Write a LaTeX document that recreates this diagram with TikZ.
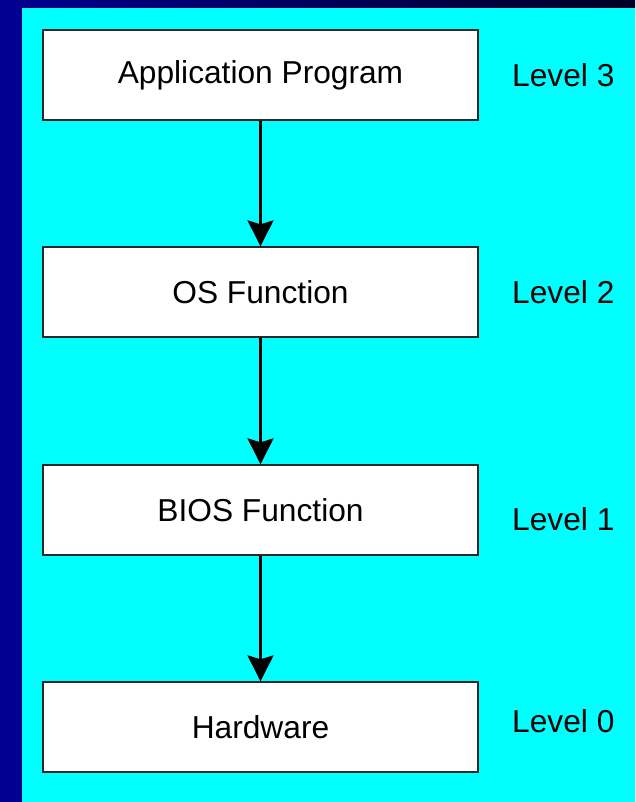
\documentclass[tikz,border=0pt]{standalone}
\usepackage{fontspec}
\setmainfont{Liberation Sans}
\usetikzlibrary{arrows.meta}
\definecolor{navy}{RGB}{0,0,144}
\definecolor{navydark}{RGB}{0,0,36}
\definecolor{bgcyan}{RGB}{0,255,255}
\definecolor{boxline}{RGB}{40,40,40}
\tikzset{
  levelbox/.style={draw=boxline, line width=1.3pt, fill=white, minimum width=435pt, minimum height=90pt, inner sep=0pt, font=\fontsize{31.7pt}{36pt}\selectfont},
  levellabel/.style={anchor=west, inner sep=0pt, font=\fontsize{31.7pt}{36pt}\selectfont},
  flow/.style={line width=2.4pt, -{Stealth[length=26pt, width=26pt, inset=4pt]}}
}
\begin{document}
\begin{tikzpicture}[x=1pt, y=-1pt]
\useasboundingbox (0,0) rectangle (635,802);
\fill[bgcyan] (0,0) rectangle (635,802);
\fill[navy] (0,0) rectangle (22,802);
\shade[left color=navy, right color=navydark] (0,0) rectangle (635,8);
\node[levelbox] (app) at (260.5,75) {Application Program};
\node[levelbox] (os) at (260.5,292) {OS Function};
\node[levelbox] (bios) at (260.5,510) {BIOS Function};
\node[levelbox] (hw) at (260.5,727) {Hardware};
\node[levellabel] (l3) at (512,75) {Level 3};
\node[levellabel] (l2) at (512,292) {Level 2};
\node[levellabel] (l1) at (512,519) {Level 1};
\node[levellabel] (l0) at (512,721) {Level 0};
\draw[flow] (app.south) -- (os.north);
\draw[flow] (os.south) -- (bios.north);
\draw[flow] (bios.south) -- (hw.north);
\end{tikzpicture}
\end{document}
